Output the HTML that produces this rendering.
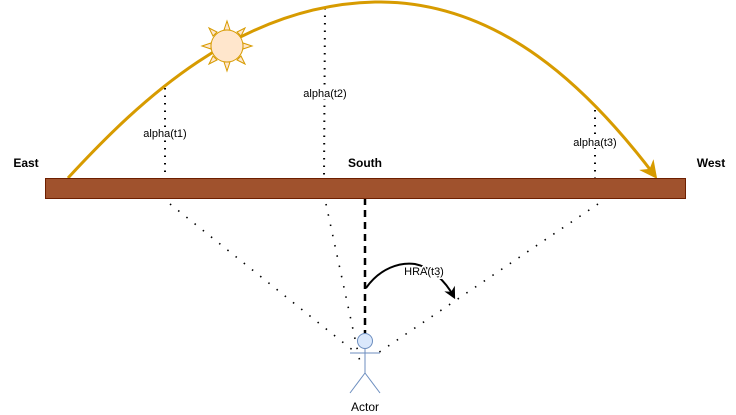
<!DOCTYPE html>
<html><head><meta charset="utf-8"><style>html,body{margin:0;padding:0;background:#fff;}svg{display:block;}</style></head>
<body>
<svg width="736" height="415" viewBox="0 0 736 415" xmlns="http://www.w3.org/2000/svg" font-family="Liberation Sans, sans-serif">
<defs><marker id="ah" viewBox="0 0 10 10" refX="8" refY="5" markerWidth="6" markerHeight="6" orient="auto"><path d="M0,0 L10,5 L0,10 L3,5 z" fill="#d79b00"/></marker>
<marker id="ah2" viewBox="0 0 10 10" refX="8" refY="5" markerWidth="6" markerHeight="6" orient="auto"><path d="M0,0 L10,5 L0,10 L3,5 z" fill="#000"/></marker></defs>
<g stroke="#000" stroke-width="2" stroke-dasharray="1.5 6" fill="none">
<line x1="165" y1="88" x2="165" y2="178"/>
<line x1="325" y1="8" x2="324" y2="178"/>
<line x1="595" y1="110" x2="595" y2="178"/>
</g>
<g stroke="#000" stroke-width="1.6" stroke-dasharray="1.5 9" fill="none">
<line x1="170" y1="204" x2="355" y2="352"/>
<line x1="326" y1="204" x2="360" y2="362"/>
<line x1="598" y1="204" x2="375" y2="355"/>
</g>
<line x1="365" y1="198" x2="365" y2="335" stroke="#000" stroke-width="2.5" stroke-dasharray="7 5"/>
<path d="M366 288 C 380 268, 400 262, 415 264 C 430 267, 445 280, 454 297" stroke="#000" stroke-width="2" fill="none" marker-end="url(#ah2)"/>
<path d="M68 178 C 140 100, 240 5, 375 2 C 500 0, 590 90, 655 176" stroke="#d79b00" stroke-width="3" fill="none" marker-end="url(#ah)"/>
<g fill="#ffe6cc" stroke="#d79b00" stroke-width="1">
<polygon points="227,21 230,30 224,30"/><polygon points="227,71 230,62 224,62"/>
<polygon points="202,46 211,43 211,49"/><polygon points="252,46 243,43 243,49"/>
<polygon points="209,28 217,32 213,36"/><polygon points="245,28 237,32 241,36"/>
<polygon points="209,64 217,60 213,56"/><polygon points="245,64 237,60 241,56"/>
<circle cx="227" cy="46" r="16"/>
</g>
<rect x="45.5" y="178.5" width="640" height="20" fill="#a0522d" stroke="#6d1f00"/>
<g stroke="#6c8ebf" fill="none" stroke-width="1">
<circle cx="365" cy="341" r="7.5" fill="#dae8fc"/>
<line x1="365" y1="348.5" x2="365" y2="373"/>
<line x1="350" y1="353" x2="380" y2="353"/>
<line x1="365" y1="373" x2="350" y2="393"/>
<line x1="365" y1="373" x2="380" y2="393"/>
</g>
<g font-size="11" fill="#000">
<text x="165" y="137" text-anchor="middle" style="paint-order:stroke" stroke="#fff" stroke-width="4">alpha(t1)</text>
<text x="325" y="97" text-anchor="middle" style="paint-order:stroke" stroke="#fff" stroke-width="4">alpha(t2)</text>
<text x="595" y="146" text-anchor="middle" style="paint-order:stroke" stroke="#fff" stroke-width="4">alpha(t3)</text>
<text x="424" y="275" text-anchor="middle" style="paint-order:stroke" stroke="#fff" stroke-width="3">HRA(t3)</text>
<text x="365" y="411" text-anchor="middle" font-size="12">Actor</text>
</g>
<g font-size="12" font-weight="bold" fill="#000">
<text x="26" y="167" text-anchor="middle">East</text>
<text x="365" y="167" text-anchor="middle">South</text>
<text x="711" y="167" text-anchor="middle">West</text>
</g>
</svg>
</body></html>
